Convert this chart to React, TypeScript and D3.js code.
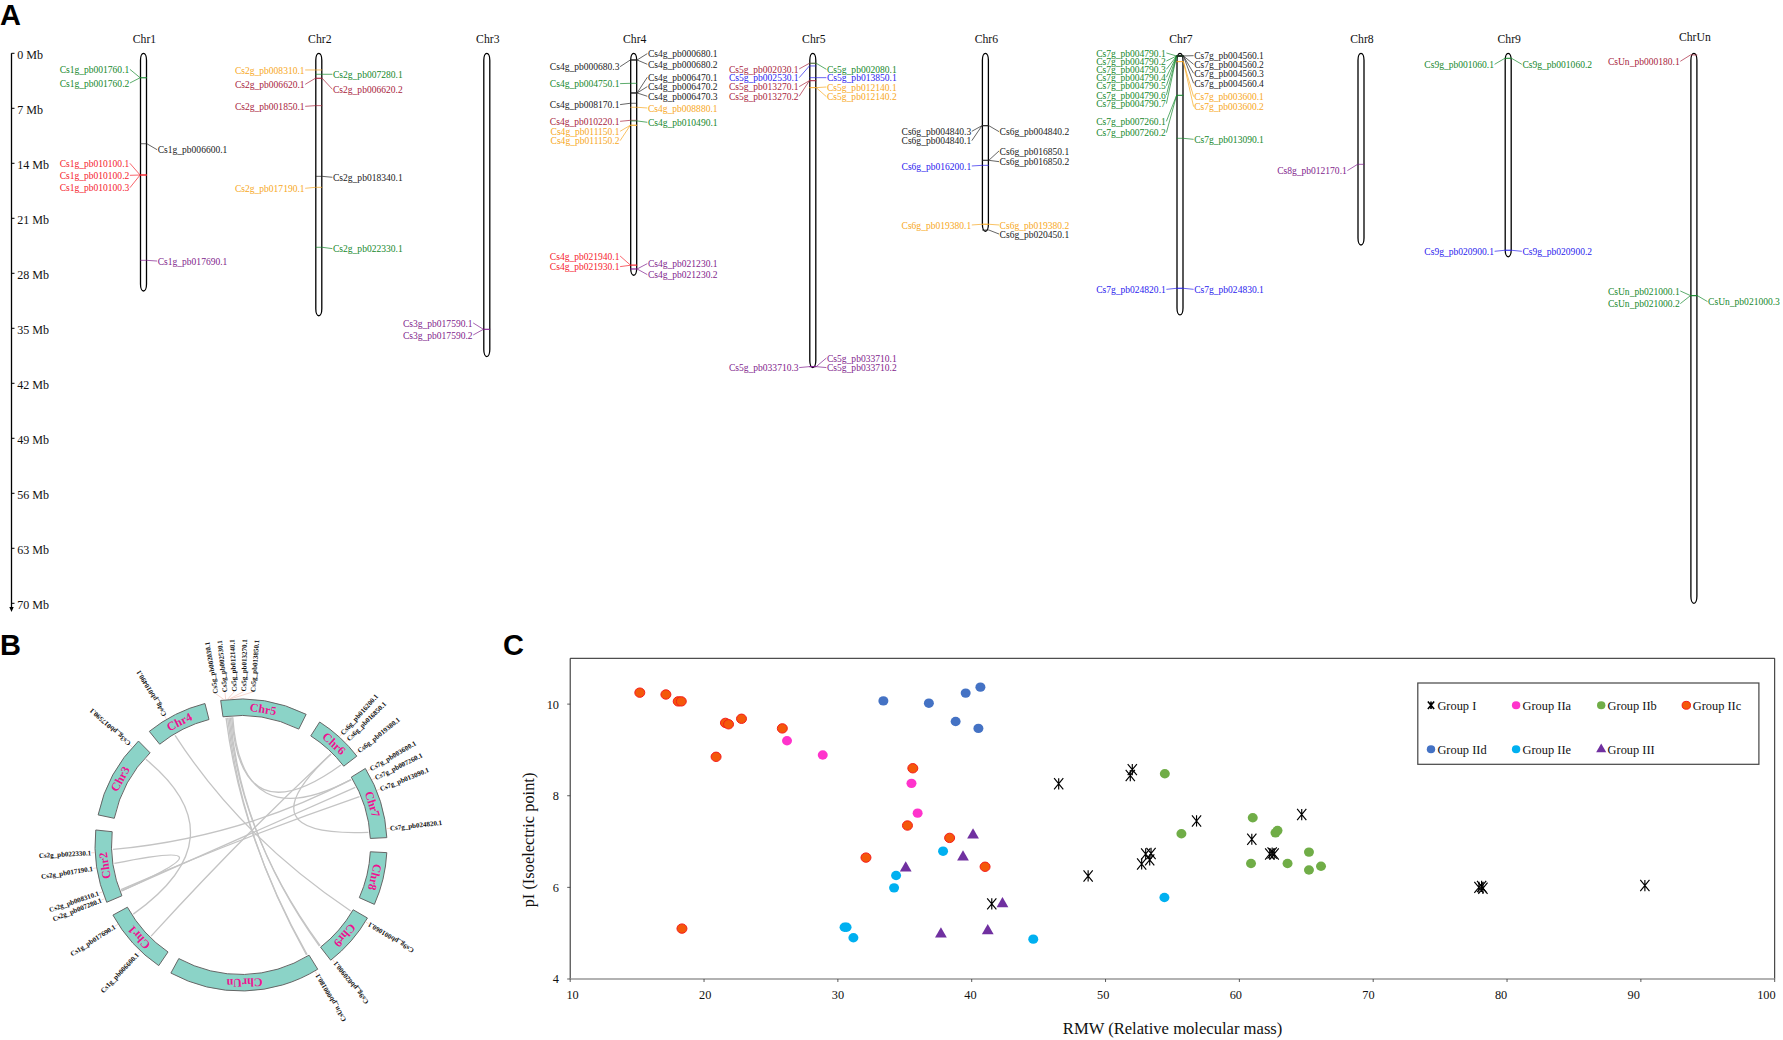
import React from "react";
import * as d3 from "d3";

// ---------- Panel A data ----------
type Gene = [string, string, "L" | "R", number, number]; // name, class, side, Mb on chromosome, Mb height of label
const chromNames = ["Chr1", "Chr2", "Chr3", "Chr4", "Chr5", "Chr6", "Chr7", "Chr8", "Chr9", "ChrUn"];
const chromLengths = [30.25, 33.4, 38.6, 28.25, 40.0, 22.65, 33.3, 24.4, 25.9, 70];
const mbTicks = [0, 7, 14, 21, 28, 35, 42, 49, 56, 63, 70];

const chr1Genes: Gene[] = [
  ["Cs1g_pb001760.1", "green", "L", 3.11, 2.04],
  ["Cs1g_pb001760.2", "green", "L", 3.11, 3.78],
  ["Cs1g_pb006600.1", "black", "R", 11.51, 12.27],
  ["Cs1g_pb010100.1", "red", "L", 15.49, 14.0],
  ["Cs1g_pb010100.2", "red", "L", 15.49, 15.53],
  ["Cs1g_pb010100.3", "red", "L", 15.49, 17.11],
  ["Cs1g_pb017690.1", "purple", "R", 26.35, 26.44],
];
const chr2Genes: Gene[] = [
  ["Cs2g_pb008310.1", "orange", "L", 2.12, 2.12],
  ["Cs2g_pb007280.1", "green", "R", 2.67, 2.67],
  ["Cs2g_pb006620.1", "brown", "L", 3.18, 3.95],
  ["Cs2g_pb006620.2", "brown", "R", 3.18, 4.58],
  ["Cs2g_pb001850.1", "brown", "L", 6.66, 6.75],
  ["Cs2g_pb018340.1", "black", "R", 15.66, 15.78],
  ["Cs2g_pb017190.1", "orange", "L", 17.06, 17.18],
  ["Cs2g_pb022330.1", "green", "R", 24.69, 24.86],
];
const chr3Genes: Gene[] = [
  ["Cs3g_pb017590.1", "purple", "L", 35.13, 34.32],
  ["Cs3g_pb017590.2", "purple", "L", 35.13, 35.85],
];
const chr4Genes: Gene[] = [
  ["Cs4g_pb000680.3", "black", "L", 0.85, 1.7],
  ["Cs4g_pb004750.1", "green", "L", 3.82, 3.86],
  ["Cs4g_pb008170.1", "black", "L", 6.36, 6.53],
  ["Cs4g_pb010220.1", "brown", "L", 8.53, 8.66],
  ["Cs4g_pb011150.1", "orange", "L", 9.16, 9.93],
  ["Cs4g_pb011150.2", "orange", "L", 9.16, 11.12],
  ["Cs4g_pb021940.1", "red", "L", 26.94, 25.8],
  ["Cs4g_pb021930.1", "red", "L", 26.98, 27.15],
  ["Cs4g_pb000680.1", "black", "R", 0.85, 0.04],
  ["Cs4g_pb000680.2", "black", "R", 0.85, 1.4],
  ["Cs4g_pb006470.1", "black", "R", 5.05, 3.05],
  ["Cs4g_pb006470.2", "black", "R", 5.05, 4.24],
  ["Cs4g_pb006470.3", "black", "R", 5.05, 5.47],
  ["Cs4g_pb008880.1", "orange", "R", 6.87, 6.96],
  ["Cs4g_pb010490.1", "green", "R", 8.61, 8.78],
  ["Cs4g_pb021230.1", "purple", "R", 27.45, 26.77],
  ["Cs4g_pb021230.2", "purple", "R", 27.45, 28.17],
];
const chr5Genes: Gene[] = [
  ["Cs5g_pb002030.1", "brown", "L", 1.27, 1.99],
  ["Cs5g_pb002530.1", "blue", "L", 1.61, 3.1],
  ["Cs5g_pb013270.1", "brown", "L", 3.48, 4.24],
  ["Cs5g_pb013270.2", "brown", "L", 3.48, 5.47],
  ["Cs5g_pb033710.3", "purple", "L", 39.88, 40.0],
  ["Cs5g_pb002080.1", "green", "R", 1.27, 2.04],
  ["Cs5g_pb013850.1", "blue", "R", 3.1, 3.1],
  ["Cs5g_pb012140.1", "orange", "R", 4.37, 4.29],
  ["Cs5g_pb012140.2", "orange", "R", 4.37, 5.52],
  ["Cs5g_pb033710.1", "purple", "R", 39.88, 38.78],
  ["Cs5g_pb033710.2", "purple", "R", 39.88, 40.0],
];
const chr6Genes: Gene[] = [
  ["Cs6g_pb004840.3", "black", "L", 9.21, 9.93],
  ["Cs6g_pb004840.1", "black", "L", 9.21, 11.12],
  ["Cs6g_pb016200.1", "blue", "L", 14.26, 14.34],
  ["Cs6g_pb019380.1", "orange", "L", 21.76, 21.85],
  ["Cs6g_pb004840.2", "black", "R", 9.21, 9.97],
  ["Cs6g_pb016850.1", "black", "R", 13.62, 12.43],
  ["Cs6g_pb016850.2", "black", "R", 13.62, 13.79],
  ["Cs6g_pb019380.2", "orange", "R", 21.76, 21.85],
  ["Cs6g_pb020450.1", "black", "R", 22.49, 23.0],
];
const chr7Genes: Gene[] = [
  ["Cs7g_pb004790.1", "green", "L", 0.34, -0.04],
  ["Cs7g_pb004790.2", "green", "L", 0.34, 0.98],
  ["Cs7g_pb004790.3", "green", "L", 0.34, 2.04],
  ["Cs7g_pb004790.4", "green", "L", 0.34, 3.05],
  ["Cs7g_pb004790.5", "green", "L", 0.34, 4.12],
  ["Cs7g_pb004790.6", "green", "L", 0.34, 5.3],
  ["Cs7g_pb004790.7", "green", "L", 0.34, 6.41],
  ["Cs7g_pb007260.1", "green", "L", 5.35, 8.66],
  ["Cs7g_pb007260.2", "green", "L", 5.35, 10.1],
  ["Cs7g_pb024820.1", "blue", "L", 29.91, 30.04],
  ["Cs7g_pb004560.1", "black", "R", 0.34, 0.3],
  ["Cs7g_pb004560.2", "black", "R", 0.34, 1.4],
  ["Cs7g_pb004560.3", "black", "R", 0.34, 2.55],
  ["Cs7g_pb004560.4", "black", "R", 0.34, 3.82],
  ["Cs7g_pb003600.1", "orange", "R", 1.06, 5.52],
  ["Cs7g_pb003600.2", "orange", "R", 1.06, 6.79],
  ["Cs7g_pb013090.1", "green", "R", 10.82, 10.95],
  ["Cs7g_pb024830.1", "blue", "R", 29.91, 30.04],
];
const chr8Genes: Gene[] = [["Cs8g_pb012170.1", "purple", "L", 14.13, 14.93]];
const chr9Genes: Gene[] = [
  ["Cs9g_pb001060.1", "green", "L", 0.64, 1.4],
  ["Cs9g_pb001060.2", "green", "R", 0.64, 1.4],
  ["Cs9g_pb020900.1", "blue", "L", 25.07, 25.2],
  ["Cs9g_pb020900.2", "blue", "R", 25.07, 25.2],
];
const chrUnGenes: Gene[] = [
  ["CsUn_pb000180.1", "brown", "L", 0.21, 1.02],
  ["CsUn_pb021000.1", "green", "L", 30.84, 30.25],
  ["CsUn_pb021000.2", "green", "L", 30.84, 31.86],
  ["CsUn_pb021000.3", "green", "R", 30.84, 31.6],
];
const chromGenes = [chr1Genes, chr2Genes, chr3Genes, chr4Genes, chr5Genes, chr6Genes, chr7Genes, chr8Genes, chr9Genes, chrUnGenes];

// ---------- Panel B data (angles in degrees, clockwise from top) ----------
const ringNames = ["Chr5", "Chr6", "Chr7", "Chr8", "Chr9", "ChrUn", "Chr1", "Chr2", "Chr3", "Chr4"];
const ringStart = [-8, 32.6, 58.4, 93, 120, 148.3, 214.3, 246.9, 281.9, 321.1];
const ringEnd = [26.5, 52.5, 87.1, 114, 142.1, 208.7, 241.3, 275.9, 315.4, 345.7];
const ringGeneNames = [
  "Cs5g_pb002030.1", "Cs5g_pb002530.1", "Cs5g_pb012140.1", "Cs5g_pb013270.1", "Cs5g_pb013850.1",
  "Cs6g_pb016200.1", "Cs6g_pb016850.1", "Cs6g_pb019380.1",
  "Cs7g_pb003600.1", "Cs7g_pb007260.1", "Cs7g_pb013090.1", "Cs7g_pb024820.1",
  "Cs9g_pb001060.1", "Cs9g_pb020900.1", "CsUn_pb000180.1",
  "Cs1g_pb006600.1", "Cs1g_pb017690.1",
  "Cs2g_pb007280.1", "Cs2g_pb008310.1", "Cs2g_pb017190.1", "Cs2g_pb022330.1",
  "Cs3g_pb017590.1", "Cs4g_pb010490.1",
];
// where each gene sits on the ring, and where its label was pushed to
const ringGeneAngles = [
  -6.7, -6, -5.2, -4.5, -4,
  42.2, 45.4, 51.4,
  59.6, 63.5, 68.1, 83.6,
  121.7, 141.4, 149.6,
  223.5, 237.2,
  248.5, 251.3, 261, 267,
  312, 329.4,
];
const ringLabelAngles = [
  -9.5, -6, -2.5, 1, 4.4,
  42.2, 45.4, 51.4,
  59.6, 63.5, 68.1, 83.6,
  121.7, 141.4, 149.6,
  223.5, 237.2,
  248.5, 251.3, 261, 267,
  312, 329.4,
];
const linkFrom = [268, 249, 249.6, 261.7, 312, 329, 224.6, 44.7, 355.8, 356.3, 353.3, 354, 354.6, 355.2];
const linkTo = [59.3, 63.2, 67.8, 249, 237.3, 121, 44.7, 84.3, 51.3, 59.3, 148.9, 149.2, 141.8, 142.2];

// ---------- Panel C data ----------
const xTicks = [10, 20, 30, 40, 50, 60, 70, 80, 90, 100];
const yTicks = [4, 6, 8, 10];
const groupI = [[41.5, 5.64], [46.5, 8.26], [48.7, 6.25], [51.85, 8.44], [52, 8.57], [52.7, 6.51], [53, 6.73], [53.4, 6.74], [53.3, 6.6], [56.8, 7.45], [60.93, 7.05], [64.66, 7.59], [62.27, 6.73], [62.45, 6.75], [62.6, 6.73], [77.9, 6.0], [78.1, 6.02], [78.2, 5.98], [90.3, 6.04]];
const groupIIa = [[26.2, 9.2], [28.87, 8.89], [35.5, 8.27], [35.96, 7.62]];
const groupIIb = [[54.43, 8.48], [61.0, 7.52], [55.67, 7.17], [62.85, 7.24], [62.7, 7.19], [65.2, 6.77], [60.87, 6.52], [63.6, 6.52], [66.1, 6.46], [65.2, 6.38]];
const groupIIc = [[15.2, 10.25], [17.15, 10.21], [18.07, 10.06], [18.3, 10.06], [21.6, 9.59], [21.83, 9.56], [22.8, 9.68], [25.85, 9.47], [20.9, 8.85], [35.6, 8.6], [35.2, 7.35], [38.35, 7.08], [32.1, 6.65], [41.0, 6.45], [18.35, 5.1]];
const groupIId = [[33.4, 10.07], [36.8, 10.02], [39.55, 10.24], [40.65, 10.37], [38.8, 9.62], [40.5, 9.47]];
const groupIIe = [[37.86, 6.79], [34.35, 6.26], [34.2, 5.99], [30.5, 5.13], [30.65, 5.13], [31.16, 4.9], [44.6, 4.87], [54.4, 5.78]];
const groupIII = [[35.07, 6.42], [40.1, 7.14], [39.35, 6.66], [37.7, 4.98], [41.2, 5.05], [42.3, 5.64]];
const groupNames = ["Group I", "Group IIa", "Group IIb", "Group IIc", "Group IId", "Group IIe", "Group III"];
const groupData = [groupI, groupIIa, groupIIb, groupIIc, groupIId, groupIIe, groupIII];

// ---------- Layout and styles ----------
const SERIF = "'Liberation Serif', 'Times New Roman', serif";
const SANS = "'Liberation Sans', Arial, sans-serif";
const geneColors: Record<string, string> = {
  black: "#222222", green: "#16882c", red: "#f5222d", brown: "#a8243c",
  orange: "#f7a823", purple: "#7f1d8c", blue: "#2a22ee",
};
const chromX = [143.5, 318.8, 486.8, 633.7, 812.8, 985.4, 1180, 1361, 1508.2, 1693.9];
const yMb = d3.scaleLinear().domain([0, 70]).range([53.3, 603.3]);

const groupFill = ["none", "#ff33cc", "#70ad47", "#f4580a", "#4472c4", "#00b0f0", "#7030a0"];
const groupStroke = ["#000", "none", "none", "#f51c1c", "none", "none", "none"];

const xS = d3.scaleLinear().domain([10, 100]).range([570.2, 1774.7]);
const xLab = d3.scaleLinear().domain([10, 100]).range([572.6, 1766.4]);
const yS = d3.scaleLinear().domain([4, 11]).range([979, 658.3]);

const cx = 241, cy = 845, R = 146, r0 = 129.5, rLink = 128;
const ctrl: [number, number] = [241, 837.5];
const rad = (deg: number) => (deg * Math.PI) / 180;
const polar = (deg: number, r: number): [number, number] => [cx + r * Math.sin(rad(deg)), cy - r * Math.cos(rad(deg))];

const arcGen = d3.arc();
const triangle = d3.symbol().type(d3.symbolTriangle);

function ST({ x, y, size, anchor = "start", children, sx = 0.9, fill = "#111" }: any) {
  return (
    <text transform={`translate(${x},${y}) scale(${sx},1)`} fontSize={size} textAnchor={anchor} dy=".34em" fill={fill} fontFamily={SERIF}>
      {children}
    </text>
  );
}

function Marker({ g, x, y, small = false }: { g: number; x: number; y: number; small?: boolean }) {
  if (g === 0) {
    const k = small ? 0.68 : 1;
    const a = 4.6 * k, b = 5.6 * k;
    return (
      <path d={`M${x - a},${y - b}L${x + a},${y + b}M${x + a},${y - b}L${x - a},${y + b}M${x},${y - b}L${x},${y + b}`} stroke="#000" strokeWidth={small ? 1.6 : 1.15} fill="none" />
    );
  }
  if (g === 6) {
    return <path transform={`translate(${x},${y})`} d={triangle.size(small ? 44 : 60)() as string} fill={groupFill[g]} />;
  }
  const k = small ? 0.84 : 1;
  return <ellipse cx={x} cy={y} rx={5 * k} ry={4.7 * k} fill={groupFill[g]} stroke={groupStroke[g]} strokeWidth={g === 3 ? 1 : 0} />;
}

function PanelA() {
  return (
    <g>
      <text x={0} y={25} fontFamily={SANS} fontWeight="bold" fontSize={29} fill="#000">A</text>
      <line x1={11.5} x2={11.5} y1={yMb(0)} y2={609} stroke="#000" strokeWidth={1.3} />
      <path d="M9.3,607L13.7,607L11.5,612Z" fill="#000" />
      {mbTicks.map((t) => (
        <g key={t}>
          <line x1={11.5} x2={14.5} y1={yMb(t)} y2={yMb(t)} stroke="#000" strokeWidth={1} />
          <ST x={17.2} y={yMb(t) + 1} size={13.4}>{`${t} Mb`}</ST>
        </g>
      ))}
      {chromNames.map((name, i) => {
        const xc = chromX[i];
        return (
          <g key={name}>
            <ST x={xc + 1} y={name === "ChrUn" ? 37 : 38.3} size={13} anchor="middle">{name}</ST>
            <rect x={xc - 3} y={yMb(0)} width={6} height={yMb(chromLengths[i]) - yMb(0)} rx={3} ry={7} fill="#fff" stroke="#000" strokeWidth={1.3} />
            {chromGenes[i].map(([gene, cls, side, mb, lab]) => {
              const s = side === "L" ? -1 : 1;
              const c = geneColors[cls];
              const pts: [number, number][] = [
                [xc - s * 3.4, yMb(mb)],
                [xc + s * 3.4, yMb(mb)],
                [xc + s * 13.6, yMb(lab)],
              ];
              return (
                <g key={gene}>
                  <path d={d3.line()(pts) as string} fill="none" stroke={c} strokeWidth={0.7} />
                  <ST x={xc + s * 14.2} y={yMb(lab)} size={10.6} anchor={side === "L" ? "end" : "start"} fill={c}>{gene}</ST>
                </g>
              );
            })}
          </g>
        );
      })}
    </g>
  );
}

function PanelB() {
  return (
    <g>
      <text x={0} y={655} fontFamily={SANS} fontWeight="bold" fontSize={29} fill="#000">B</text>
      {linkFrom.map((a, i) => {
        const p = d3.path();
        const p0 = polar(a, rLink), p1 = polar(linkTo[i], rLink);
        p.moveTo(p0[0], p0[1]);
        p.quadraticCurveTo(ctrl[0], ctrl[1], p1[0], p1[1]);
        return <path key={i} d={p.toString()} fill="none" stroke="#c4c4c4" strokeWidth={1.3} />;
      })}
      {ringNames.map((name, i) => {
        const a0 = ringStart[i], a1 = ringEnd[i];
        const mid = (a0 + a1) / 2;
        const pos = polar(mid, (R + r0) / 2);
        return (
          <g key={name}>
            <path
              transform={`translate(${cx},${cy})`}
              d={arcGen({ innerRadius: r0, outerRadius: R, startAngle: rad(a0), endAngle: rad(a1) }) as string}
              fill="#8bd3c7" stroke="#666" strokeWidth={1}
            />
            <text transform={`translate(${pos[0]},${pos[1]}) rotate(${mid})`} textAnchor="middle" dy=".34em" fontFamily={SERIF} fontWeight="bold" fontSize={12} fill="#ee1390">{name}</text>
          </g>
        );
      })}
      {ringGeneNames.map((gene, i) => {
        const a = ringLabelAngles[i];
        const norm = ((a % 360) + 360) % 360;
        const outward = norm < 90 || norm > 300;
        const rl = i < 5 ? 153.5 : 150;
        const pos = polar(a, rl);
        const g0 = polar(ringGeneAngles[i], R + 0.5);
        return (
          <g key={gene}>
            <line x1={g0[0]} y1={g0[1]} x2={pos[0]} y2={pos[1]} stroke="#f3bdb0" strokeWidth={0.6} />
            <text
              transform={`translate(${pos[0]},${pos[1]}) rotate(${outward ? a - 90 : a + 90})`}
              textAnchor={outward ? "start" : "end"} dy=".34em"
              fontFamily={SERIF} fontWeight="bold" fontSize={7} fill="#111"
            >{gene}</text>
          </g>
        );
      })}
    </g>
  );
}

function PanelC() {
  const top = yS(11), bottom = yS(4), left = xS(10), right = xS(100);
  return (
    <g>
      <text x={503} y={655} fontFamily={SANS} fontWeight="bold" fontSize={29} fill="#000">C</text>
      <path d={`M${left},${bottom}L${left},${top}L${right},${top}L${right},${bottom}`} fill="none" stroke="#222" strokeWidth={1} />
      <line x1={left} x2={right} y1={bottom} y2={bottom} stroke="#999" strokeWidth={1.5} />
      {xTicks.map((t) => (
        <g key={t}>
          <line x1={xS(t)} x2={xS(t)} y1={bottom} y2={bottom + 3} stroke="#333" strokeWidth={0.8} />
          <ST x={xLab(t)} y={995} size={13} anchor="middle" sx={0.95}>{t}</ST>
        </g>
      ))}
      {yTicks.map((t) => (
        <g key={t}>
          <line x1={left - 3} x2={left} y1={yS(t)} y2={yS(t)} stroke="#333" strokeWidth={0.8} />
          <ST x={559} y={yS(t)} size={13} anchor="end" sx={0.95}>{t}</ST>
        </g>
      ))}
      <text x={1172.6} y={1034} textAnchor="middle" fontFamily={SERIF} fontSize={16.6} fill="#111">RMW (Relative molecular mass)</text>
      <text transform="translate(533.5,840) rotate(-90)" textAnchor="middle" fontFamily={SERIF} fontSize={16.4} fill="#111">pI (Isoelectric point)</text>
      {groupData.map((pts, g) => (
        <g key={g}>
          {pts.map(([a, b], i) => <Marker key={i} g={g} x={xS(a)} y={yS(b)} />)}
        </g>
      ))}
      <rect x={1417.8} y={683} width={341.1} height={81.3} fill="#fff" stroke="#444" strokeWidth={1.2} />
      {groupNames.map((name, i) => {
        const col = i % 4, row = Math.floor(i / 4);
        const mx = 1431 + col * 85.1;
        const my = 705.3 + row * 44;
        return (
          <g key={name}>
            <Marker g={i} x={mx} y={my} small />
            <ST x={mx + 6.4} y={my + 0.6} size={12.4} sx={1}>{name}</ST>
          </g>
        );
      })}
    </g>
  );
}

export default function App() {
  return (
    <svg width={1783} height={1040} viewBox="0 0 1783 1040" style={{ position: "absolute", left: 0, top: 0, background: "#fff" }}>
      <PanelA />
      <PanelB />
      <PanelC />
    </svg>
  );
}
